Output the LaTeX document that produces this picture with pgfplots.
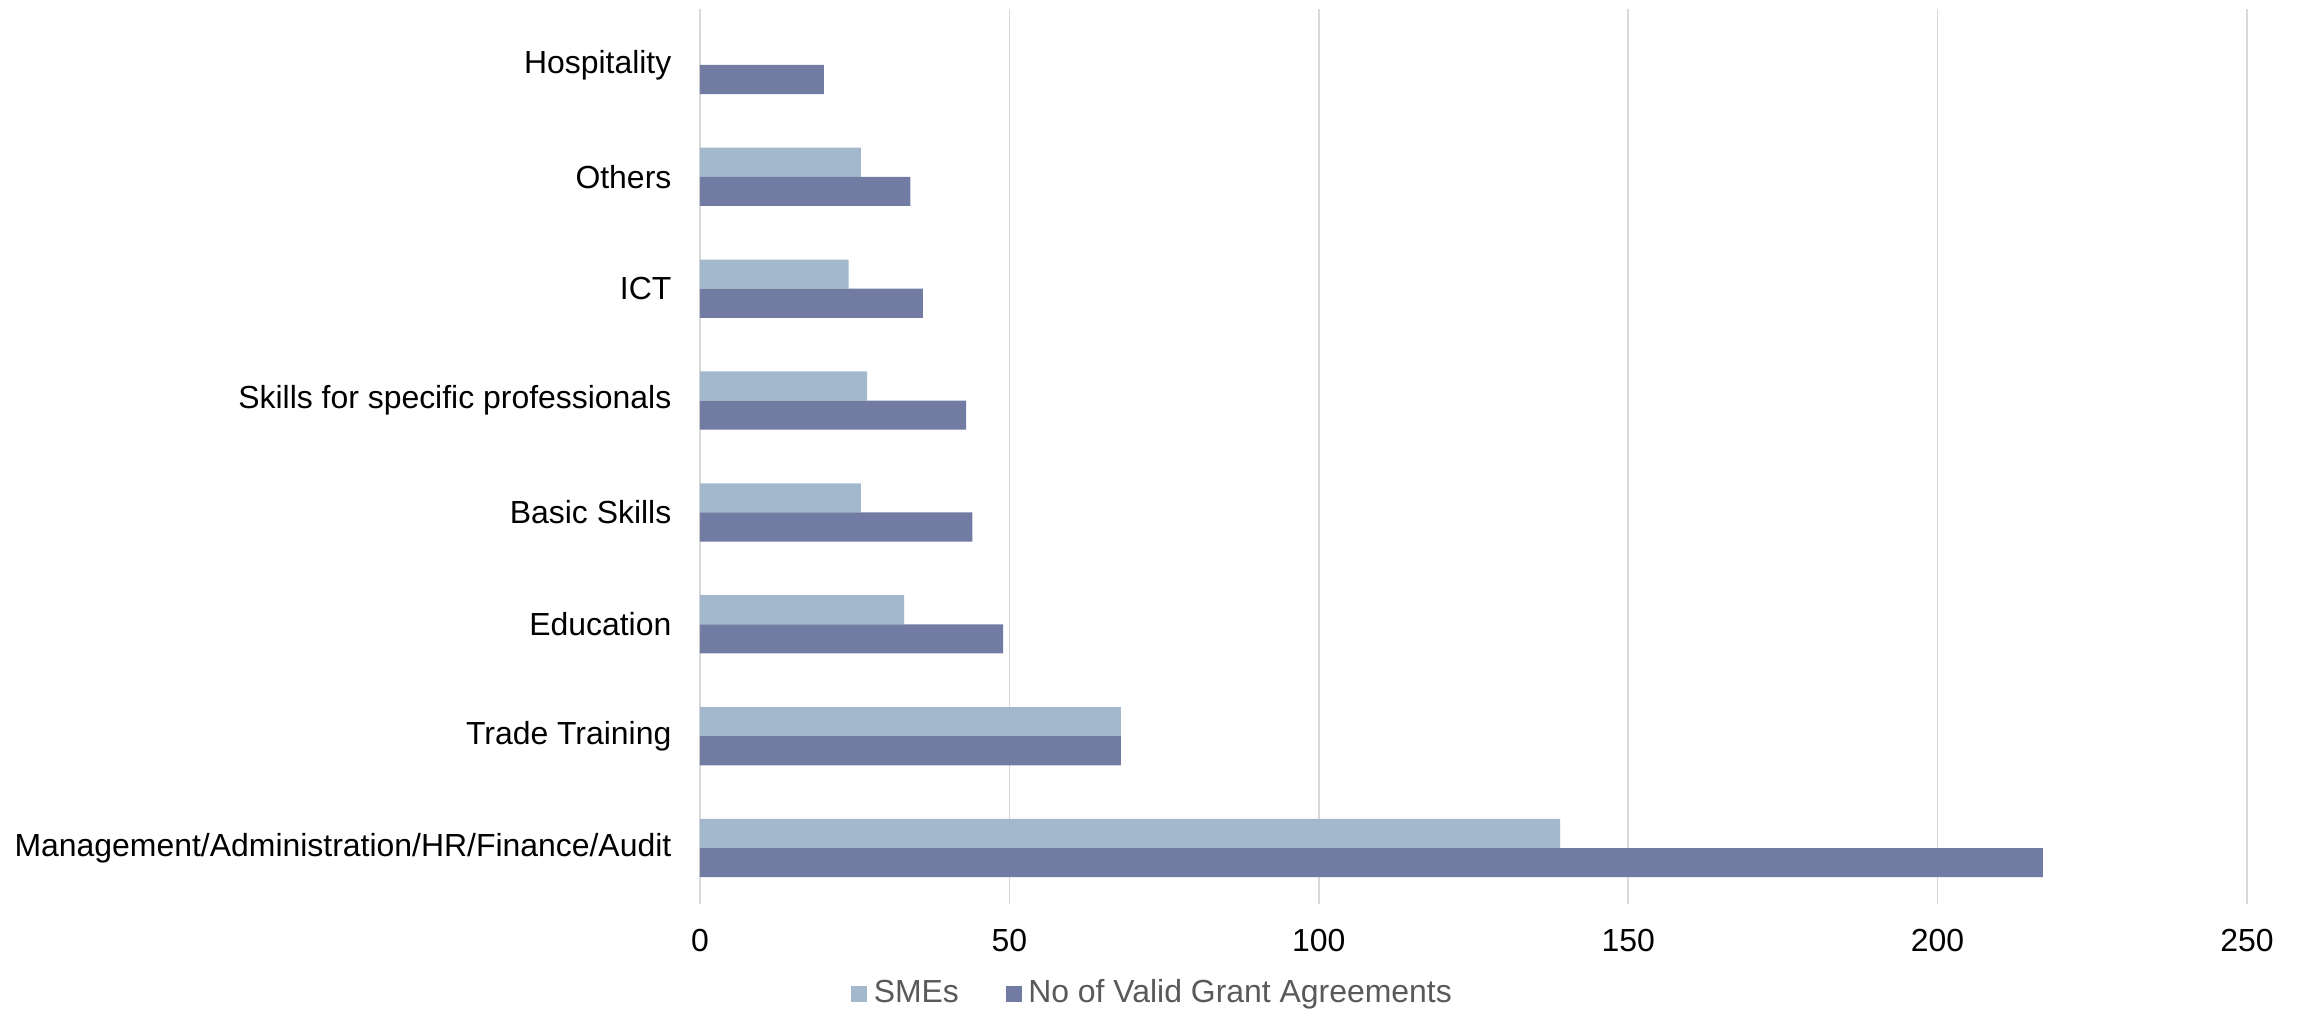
\documentclass[border=0pt]{standalone}
\usepackage{fontspec}
\setmainfont{Liberation Sans}
\usepackage{pgfplots}
\pgfplotsset{compat=1.18}
\definecolor{smes}{HTML}{A3B8CD}
\definecolor{valid}{HTML}{727BA1}
\definecolor{gridc}{HTML}{D9D9D9}
\definecolor{legtext}{HTML}{595959}
\begin{document}
\fontsize{9.58}{11.5}\selectfont
\begin{tikzpicture}
\begin{axis}[
  name=ax,
  xbar,
  scale only axis,
  width=464.1pt, height=268.5pt,
  xmin=0, xmax=250,
  ymin=-0.5, ymax=7.5,
  bar width=0.26,
  xtick={0,50,100,150,200,250},
  ytick={0,1,2,3,4,5,6,7},
  yticklabels={Management/Administration/HR/Finance/Audit, Trade Training, Education\ , Basic Skills, Skills for specific professionals, ICT, Others, Hospitality},
  /pgf/number format/assume math mode=true,
  font=\fontsize{9.58}{11.5}\selectfont,
  ticklabel style={font=\fontsize{9.58}{11.5}\selectfont, text=black},
  yticklabel style={xshift=-5.2pt},
  xticklabel style={yshift=-4.3pt},
  major tick length=0pt,
  axis line style={draw=none},
  xmajorgrids,
  grid style={draw=gridc, line width=0.5pt},
  legend style={at={(0.294,-0.1)}, anchor=center, draw=none, fill=none,
    legend columns=2, font=\fontsize{9.58}{11.5}\selectfont, text=legtext,
    /tikz/every even column/.append style={column sep=12pt}},
  legend image code/.code={\fill[#1] (0pt,-2.4pt) rectangle (4.8pt,2.4pt);},
]
\addplot[fill=smes, draw=none, bar shift=0.13] coordinates {
  (139,0) (68,1) (33,2) (26,3) (27,4) (24,5) (26,6) (0,7)
};
\addlegendentry{SMEs}
\addplot[fill=valid, draw=none, bar shift=-0.13] coordinates {
  (217,0) (68,1) (49,2) (44,3) (43,4) (36,5) (34,6) (20,7)
};
\addlegendentry{No of Valid Grant Agreements}
\end{axis}
\pgfresetboundingbox
\path[use as bounding box] ([shift={(-210pt,-33.3pt)}]ax.south west) rectangle ([shift={(15.9pt,2.7pt)}]ax.north east);
\end{tikzpicture}
\end{document}
